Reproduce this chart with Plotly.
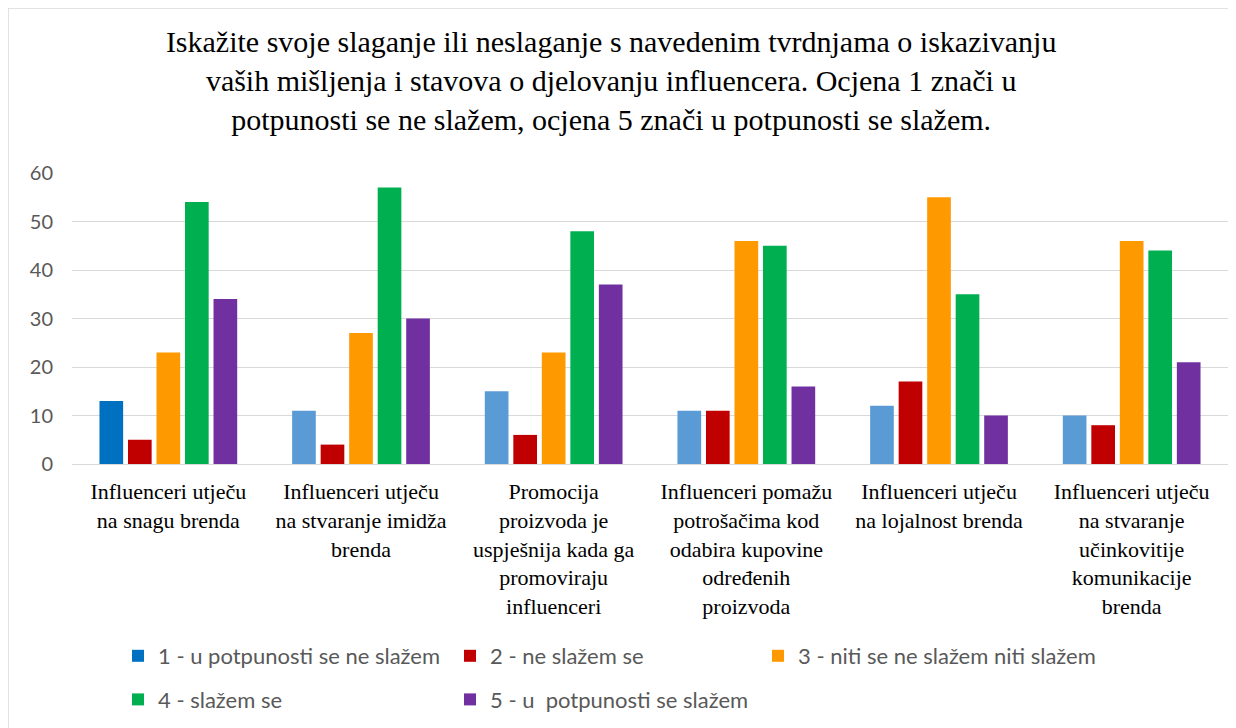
import plotly.graph_objects as go

categories = [
    "Influenceri utječu<br>na snagu brenda",
    "Influenceri utječu<br>na stvaranje imidža<br>brenda",
    "Promocija<br>proizvoda je<br>uspješnija kada ga<br>promoviraju<br>influenceri",
    "Influenceri pomažu<br>potrošačima kod<br>odabira kupovine<br>određenih<br>proizvoda",
    "Influenceri utječu<br>na lojalnost brenda",
    "Influenceri utječu<br>na stvaranje<br>učinkovitije<br>komunikacije<br>brenda",
]
series_names = [
    "1 - u potpunosti se ne slažem",
    "2 - ne slažem se",
    "3 - niti se ne slažem niti slažem",
    "4 - slažem se",
    "5 - u  potpunosti se slažem",
]
s1 = [13, 11, 15, 11, 12, 10]
s2 = [5, 4, 6, 11, 17, 8]
s3 = [23, 27, 23, 46, 55, 46]
s4 = [54, 57, 48, 45, 35, 44]
s5 = [34, 30, 37, 16, 10, 21]
colors = ["#5B9BD5", "#C00000", "#FF9900", "#00B050", "#7030A0"]
legend_ids = ["legend", "legend2", "legend3", "legend", "legend2"]

fig = go.Figure()
for i, (name, vals) in enumerate(zip(series_names, [s1, s2, s3, s4, s5])):
    mc = colors[i]
    if i == 0:
        mc = ["#0070C0"] + [colors[0]] * (len(vals) - 1)
    fig.add_trace(go.Bar(x=categories, y=vals, name=name, legend=legend_ids[i],
                         legendgroup="g%d" % i,
                         marker=dict(color=mc, line=dict(width=0))))

OFF = 8  # page body margin
W, H = 1236, 728
L, R, T = 72 - OFF, 16, 173 - OFF
bottom = 464 - OFF
B = H - bottom
pw, ph = W - L - R, H - T - B

def px(x):
    return (x - OFF - L) / pw

def py(y):
    return (H - B - (y - OFF)) / ph

serif = "Times New Roman, Liberation Serif, DejaVu Serif, serif"
sans = "Lato, Carlito, Open Sans, sans-serif"
legfont = dict(family=sans, size=22, color="#595959")

def leg(xpix):
    return dict(orientation="v", x=px(xpix), xanchor="left", y=py(635), yanchor="top",
                font=legfont, itemwidth=30, tracegroupgap=12, itemclick=False,
                bgcolor="rgba(0,0,0,0)")

fig.update_layout(
    width=W, height=H,
    margin=dict(l=L, r=R, t=T, b=B),
    paper_bgcolor="white", plot_bgcolor="white",
    barmode="group", bargap=0.26, bargroupgap=0.17,
    title=dict(
        text="Iskažite svoje slaganje ili neslaganje s navedenim tvrdnjama o iskazivanju<br>vaših mišljenja i stavova o djelovanju influencera. Ocjena 1 znači u<br>potpunosti se ne slažem, ocjena 5 znači u potpunosti se slažem.",
        x=0.488, xanchor="center", y=1 - 44 / H, yanchor="top",
        font=dict(family=serif, size=30, color="#000000"),
    ),
    font=dict(family=sans, color="#595959"),
    xaxis=dict(
        showline=True, linecolor="#D9D9D9", linewidth=1,
        ticks="", tickfont=dict(family=serif, size=22, color="#000000"),
        showgrid=False, ticklabelstandoff=8,
    ),
    yaxis=dict(
        range=[0, 60], dtick=10, showgrid=True, gridcolor="#D9D9D9", gridwidth=1,
        zeroline=False, showline=False, ticks="",
        tickfont=dict(family=sans, size=20, color="#595959"),
        ticklabelstandoff=18,
    ),
    legend=leg(118),
    legend2=leg(450),
    legend3=leg(758),
    shapes=[dict(type="rect", xref="paper", yref="paper",
                 x0=px(8), x1=px(1260), y0=py(760), y1=py(8),
                 line=dict(color="#D9D9D9", width=1.5), fillcolor="rgba(0,0,0,0)", layer="below")],
)

fig.write_html("out.html")
